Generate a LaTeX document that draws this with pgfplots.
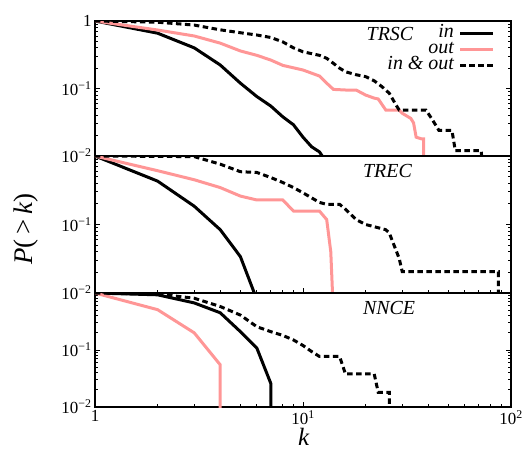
\documentclass[border=0pt]{standalone}
\usepackage{fontspec}
\setmainfont{Liberation Serif}
\usepackage{pgfplots}
\usepackage{pgfplotstable}
\pgfplotsset{compat=1.18}
\definecolor{pinkc}{RGB}{255,150,150}
\newcommand{\tp}[1]{10\textsuperscript{#1}}
\newcommand{\mn}{\char"2212\relax}

\pgfplotsset{
  every axis/.append style={
    xmin=1, xmax=100, ymin=0.01, ymax=1,
    scale only axis, width=416bp,
    axis line style={line width=1.2bp},
    every tick/.style={black, line width=0.8bp},
    major tick length=5bp, minor tick length=3bp,
    tick label style={font=\fontsize{17}{20}\selectfont},
    ytick={0.01,0.1,1},
    minor ytick={0.02,0.03,0.04,0.05,0.06,0.07,0.08,0.09,0.2,0.3,0.4,0.5,0.6,0.7,0.8,0.9},
  },
  legend image code/.code={\draw[#1] (0bp,0bp) -- (33bp,0bp);},
}
\tikzset{
  cin/.style={line width=3bp, black},
  cout/.style={line width=3bp, pinkc},
  cboth/.style={line width=3bp, black, dash pattern=on 5.5bp off 3.5bp},
  lbl/.style={font=\fontsize{20}{22}\selectfont\itshape, anchor=center},
}

\pgfplotstableread{
k P
1 1
2 0.66
3 0.40
4 0.223
5 0.12
6 0.076
7 0.055
8 0.038
9 0.029
10 0.019
11 0.0137
12 0.0115
13 0.008
}\trscin
\pgfplotstableread{
k P
1 1
2 0.735
3 0.60
4 0.47
5 0.36
6 0.31
7 0.264
8 0.22
10 0.188
12 0.153
13 0.12
14 0.097
16 0.095
18 0.095
20 0.08
22 0.072
23 0.070
25 0.048
29 0.048
30 0.043
33 0.036
34 0.031
35 0.019
37 0.018
38 0.018
38 0.005
}\trscout
\pgfplotstableread{
k P
1 1
2 0.96
3 0.87
4 0.74
5 0.67
6 0.62
7 0.57
8 0.49
9 0.40
10 0.35
12 0.31
13 0.28
14 0.236
15 0.20
16 0.177
18 0.16
20 0.15
22 0.13
24 0.106
26 0.085
28 0.057
29 0.048
39 0.048
42 0.034
45 0.024
52 0.024
54 0.012
72 0.012
73 0.005
}\trscboth
\pgfplotstableread{
k P
1 1
2 0.43
3 0.185
4 0.084
5 0.034
6 0.008
}\trecin
\pgfplotstableread{
k P
1 1
2 0.61
3 0.45
4 0.346
5 0.26
6 0.228
8 0.228
9 0.157
12 0.157
13 0.118
13.6 0.04
14 0.005
}\trecout
\pgfplotstableread{
k P
1 1
3 0.98
4 0.76
5 0.59
6 0.575
7 0.485
8 0.41
9 0.346
10 0.29
12 0.21
13 0.197
15 0.197
16 0.167
18 0.118
20 0.10
25 0.084
26 0.075
29 0.032
30 0.0205
87 0.0205
87 0.005
}\trecboth
\pgfplotstableread{
k P
1 1
2 0.93
3 0.67
4 0.45
5 0.21
6 0.108
7 0.026
7 0.005
}\nncein
\pgfplotstableread{
k P
1 1
2 0.51
3 0.2
4 0.055
4 0.005
}\nnceout
\pgfplotstableread{
k P
1 1
2 0.96
3 0.81
4 0.58
5 0.41
6 0.256
7 0.21
8 0.18
9 0.15
10 0.12
11 0.094
12 0.077
15 0.077
16 0.038
22 0.038
23 0.018
26 0.018
26 0.005
}\nnceboth

\begin{document}
\begin{tikzpicture}
\useasboundingbox (-95bp,21bp) rectangle (429bp,-430bp);
% top panel
\begin{loglogaxis}[name=top, at={(0,0)}, anchor=north west, height=135bp,
  xtick=\empty, xminorticks=false,
  yticklabels={\tp{\mn2}, \tp{\mn1}, 1},
  legend cell align=right, legend plot pos=right,
  legend style={draw=none, fill=none, at={(rel axis cs:0.969,0.972)}, anchor=north east,
    font=\fontsize{20}{22}\selectfont\itshape,
    nodes={inner sep=0pt, text height=11bp, text depth=3bp},
    row sep=2bp, column sep=5bp},
]
\addplot[cin] table[x=k,y=P] {\trscin};
\addlegendentry{in}
\addplot[cout] table[x=k,y=P] {\trscout};
\addlegendentry{out}
\addplot[cboth] table[x=k,y=P] {\trscboth};
\addlegendentry{in \& out}
\node[lbl] at (rel axis cs:0.709,0.904) {TRSC};
\end{loglogaxis}
% middle panel
\begin{loglogaxis}[name=mid, at={(top.south west)}, anchor=north west, height=137bp,
  xtick={1,10,100}, xticklabels={}, xtick pos=lower,
  minor xtick={2,3,4,5,6,7,8,9,20,30,40,50,60,70,80,90},
  yticklabels={\tp{\mn2}, \tp{\mn1}, {}},
  ylabel={\textit{P}(\,>\,\textit{k})},
  ylabel style={at={(rel axis cs:-0.166,0.467)}, anchor=center,
    font=\fontsize{27}{30}\selectfont},
]
\addplot[cin] table[x=k,y=P] {\trecin};
\addplot[cout] table[x=k,y=P] {\trecout};
\addplot[cboth] table[x=k,y=P] {\trecboth};
\node[lbl] at (rel axis cs:0.703,0.893) {TREC};
\end{loglogaxis}
% bottom panel
\begin{loglogaxis}[name=bot, at={(mid.south west)}, anchor=north west, height=114bp,
  xtick={1,10,100}, xticklabels={1, \tp{1}, \tp{2}}, xtick pos=lower,
  minor xtick={2,3,4,5,6,7,8,9,20,30,40,50,60,70,80,90},
  yticklabels={\tp{\mn2}, \tp{\mn1}, {}},
  xlabel={\textit{k}},
  xlabel style={at={(rel axis cs:0.502,-0.262)}, anchor=center, inner sep=0pt,
    font=\fontsize{25}{27}\selectfont},
]
\addplot[cin] table[x=k,y=P] {\nncein};
\addplot[cout] table[x=k,y=P] {\nnceout};
\addplot[cboth] table[x=k,y=P] {\nnceboth};
\node[lbl] at (rel axis cs:0.707,0.868) {NNCE};
\end{loglogaxis}
\end{tikzpicture}
\end{document}
